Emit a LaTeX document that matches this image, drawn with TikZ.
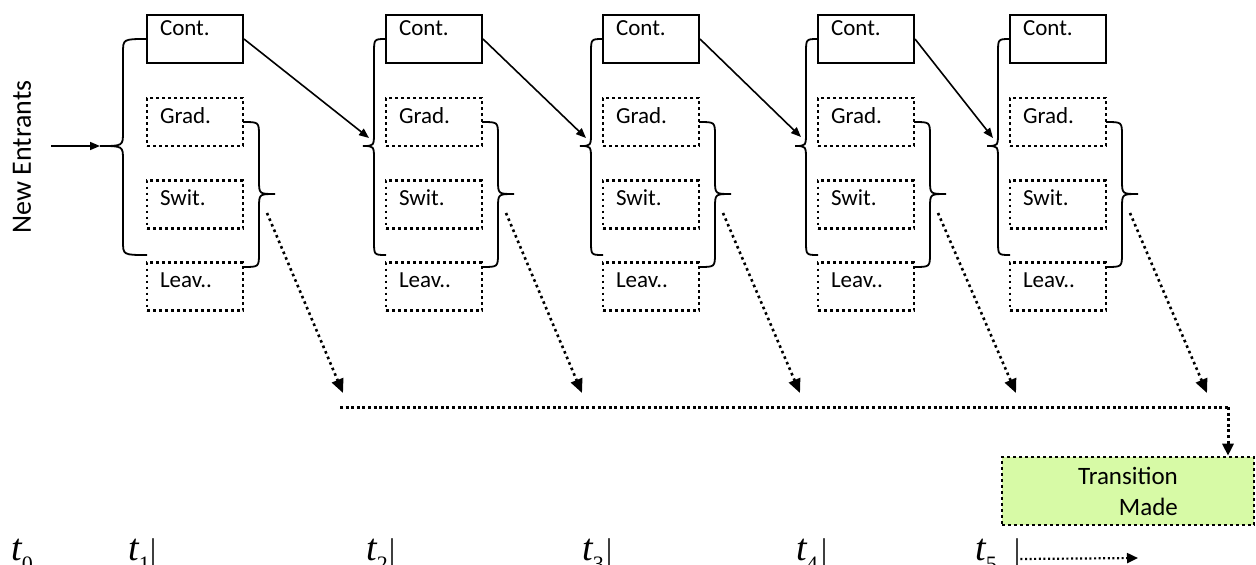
\documentclass[tikz,border=0pt]{standalone}
\usepackage{fontspec}
\setmainfont{Carlito}
\newfontfamily\timesfont{Liberation Serif}
\usetikzlibrary{arrows.meta}
\definecolor{tgreen}{RGB}{215,250,166}
\newcommand{\tlab}[1]{{\timesfont\itshape t}{\timesfont\fontsize{22}{22}\selectfont\raisebox{-11pt}{#1}}}

\begin{document}
\begin{tikzpicture}[x=1pt,y=-1pt]
\tikzstyle{every node}+=[inner sep=0pt]
\tikzstyle{solidbox}=[draw, line width=2pt, inner xsep=13pt, text width=70pt, align=left, text height=25pt, text depth=23pt, font=\fontsize{23}{25}\selectfont]
\tikzstyle{contbox}=[solidbox, text height=20pt, text depth=28pt]
\tikzstyle{dots}=[line width=2.6pt, dash pattern=on 2.6pt off 3.4pt]
\tikzstyle{sqdots}=[line width=3pt, dash pattern=on 3pt off 2.6pt]
\tikzstyle{dotbox}=[solidbox, dots]
\tikzstyle{curly}=[line width=1.8pt]
\tikzstyle{solidarrow}=[line width=1.6pt, -{Triangle[length=10pt,width=8pt]}]
\tikzstyle{dotarrow}=[dots, -{Triangle[length=14pt,width=12pt]}]
\tikzstyle{tnode}=[anchor=base west, font=\fontsize{38}{38}\selectfont]
\tikzstyle{tbar}=[anchor=base west, font=\timesfont\fontsize{30}{30}\selectfont]
\useasboundingbox (0,0) rectangle (1256,565);
\node[rotate=90, font=\fontsize{28}{28}\selectfont] (NE) at (22,157) {New Entrants};
\node[contbox] (C1) at (195,39) {Cont.};
\node[dotbox] (G1) at (195,122) {Grad.};
\node[dotbox] (S1) at (195,204.5) {Swit.};
\node[dotbox] (V1) at (195,286.5) {Leav..};
\node[contbox] (C2) at (434,39) {Cont.};
\node[dotbox] (G2) at (434,122) {Grad.};
\node[dotbox] (S2) at (434,204.5) {Swit.};
\node[dotbox] (V2) at (434,286.5) {Leav..};
\node[contbox] (C3) at (651,39) {Cont.};
\node[dotbox] (G3) at (651,122) {Grad.};
\node[dotbox] (S3) at (651,204.5) {Swit.};
\node[dotbox] (V3) at (651,286.5) {Leav..};
\node[contbox] (C4) at (866,39) {Cont.};
\node[dotbox] (G4) at (866,122) {Grad.};
\node[dotbox] (S4) at (866,204.5) {Swit.};
\node[dotbox] (V4) at (866,286.5) {Leav..};
\node[contbox] (C5) at (1058,39) {Cont.};
\node[dotbox] (G5) at (1058,122) {Grad.};
\node[dotbox] (S5) at (1058,204.5) {Swit.};
\node[dotbox] (V5) at (1058,286.5) {Leav..};
\draw [curly] (147,39) .. controls (123,39) .. (123,53) -- (123,132) .. controls (123,146) .. (100,146) .. controls (123,146) .. (123,160) -- (123,241) .. controls (123,255) .. (147,255);
\draw [curly] (386,39) .. controls (374,39) .. (374,53) -- (374,132) .. controls (374,146) .. (363,146) .. controls (374,146) .. (374,160) -- (374,241) .. controls (374,255) .. (386,255);
\draw [curly] (603,39) .. controls (591,39) .. (591,53) -- (591,132) .. controls (591,146) .. (580,146) .. controls (591,146) .. (591,160) -- (591,241) .. controls (591,255) .. (603,255);
\draw [curly] (818,39) .. controls (806,39) .. (806,53) -- (806,132) .. controls (806,146) .. (795,146) .. controls (806,146) .. (806,160) -- (806,241) .. controls (806,255) .. (818,255);
\draw [curly] (1010,39) .. controls (998,39) .. (998,53) -- (998,132) .. controls (998,146) .. (987,146) .. controls (998,146) .. (998,160) -- (998,241) .. controls (998,255) .. (1010,255);
\draw [curly] (243,122) .. controls (259,122) .. (259,136) -- (259,180) .. controls (259,194) .. (275,194) .. controls (259,194) .. (259,208) -- (259,253) .. controls (259,267) .. (243,267);
\draw [curly] (482,122) .. controls (498,122) .. (498,136) -- (498,180) .. controls (498,194) .. (514,194) .. controls (498,194) .. (498,208) -- (498,253) .. controls (498,267) .. (482,267);
\draw [curly] (699,122) .. controls (715,122) .. (715,136) -- (715,180) .. controls (715,194) .. (731,194) .. controls (715,194) .. (715,208) -- (715,253) .. controls (715,267) .. (699,267);
\draw [curly] (914,122) .. controls (930,122) .. (930,136) -- (930,180) .. controls (930,194) .. (946,194) .. controls (930,194) .. (930,208) -- (930,253) .. controls (930,267) .. (914,267);
\draw [curly] (1106,122) .. controls (1122,122) .. (1122,136) -- (1122,180) .. controls (1122,194) .. (1138,194) .. controls (1122,194) .. (1122,208) -- (1122,253) .. controls (1122,267) .. (1106,267);
\coordinate (a0) at (51,146);
\coordinate (L1) at (100,146);
\coordinate (L2) at (369,138);
\coordinate (L3) at (586,138);
\coordinate (L4) at (801,137);
\coordinate (L5) at (993,138);
\draw [solidarrow] (a0) -- (L1);
\draw [solidarrow] (C1.east) -- (L2);
\draw [solidarrow] (C2.east) -- (L3);
\draw [solidarrow] (C3.east) -- (L4);
\draw [solidarrow] (C4.east) -- (L5);
\coordinate (R1) at (267,213);
\coordinate (R2) at (506,213);
\coordinate (R3) at (723,213);
\coordinate (R4) at (938,213);
\coordinate (R5) at (1130,213);
\coordinate (D1) at (343,393);
\coordinate (D2) at (582,393);
\coordinate (D3) at (800,393);
\coordinate (D4) at (1016,393);
\coordinate (D5) at (1207,393);
\draw [dotarrow] (R1) -- (D1);
\draw [dotarrow] (R2) -- (D2);
\draw [dotarrow] (R3) -- (D3);
\draw [dotarrow] (R4) -- (D4);
\draw [dotarrow] (R5) -- (D5);
\node[draw, dots, fill=tgreen, minimum width=252, minimum height=68, align=right, font=\fontsize{25}{31}\selectfont] (T) at (1128,491) {Transition\\Made};
\coordinate (h0) at (340,407);
\coordinate (h1) at (1228,407);
\draw [sqdots] (h0) -- (h1);
\draw [sqdots, -{Triangle[length=12pt,width=11pt]}] (h1) -- (T.north -| h1);
\node[tnode] (t0) at (11,560) {\tlab{0}};
\node[tnode] (t1) at (128,560) {\tlab{1}};
\node[tnode] (t2) at (366,560) {\tlab{2}};
\node[tnode] (t3) at (582,560) {\tlab{3}};
\node[tnode] (t4) at (796,560) {\tlab{4}};
\node[tnode] (t5) at (975,560) {\tlab{5}};
\node[tbar] (b1) at (150,559) {|};
\node[tbar] (b2) at (389,559) {|};
\node[tbar] (b3) at (606,559) {|};
\node[tbar] (b4) at (821,559) {|};
\node[tbar] (b5) at (1014,559) {|};
\coordinate (e5) at (1138,558);
\draw [line width=2.2pt, dash pattern=on 2pt off 2.6pt, -{Triangle[length=11pt,width=10pt]}] (b5.base east) -- (e5);
\end{tikzpicture}
\end{document}
